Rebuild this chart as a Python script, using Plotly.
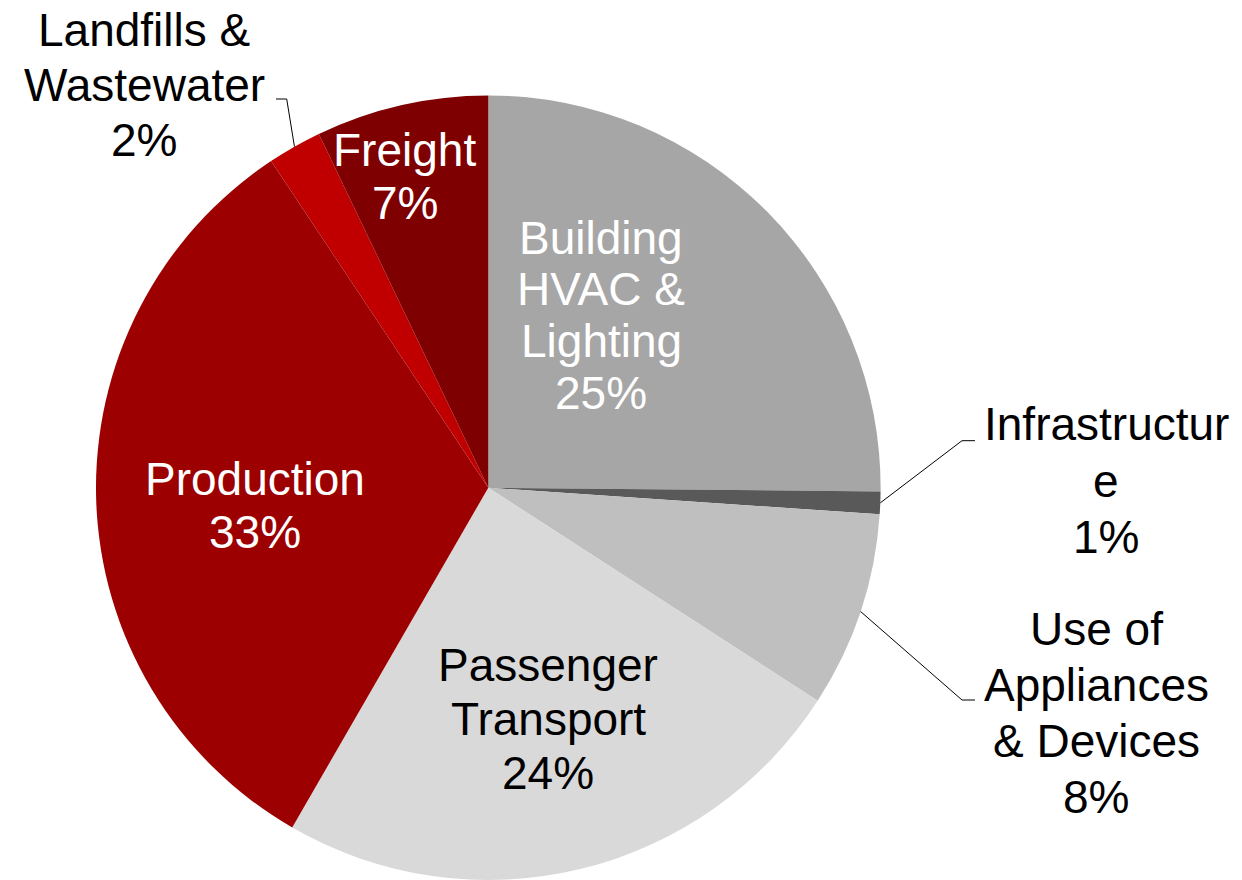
import math

import plotly.graph_objects as go

# ---------------------------------------------------------------------------
# Data
# ---------------------------------------------------------------------------

categories = [
    "Building HVAC & Lighting",
    "Infrastructure",
    "Use of Appliances & Devices",
    "Passenger Transport",
    "Production",
    "Landfills & Wastewater",
    "Freight",
]
shares = [25.15, 0.93, 8.06, 24.19, 32.33, 2.23, 7.11]
pct_labels = ["25%", "1%", "8%", "24%", "33%", "2%", "7%"]
label_lines = [
    ["Building", "HVAC &", "Lighting"],
    ["Infrastructur", "e"],
    ["Use of", "Appliances", "& Devices"],
    ["Passenger", "Transport"],
    ["Production"],
    ["Landfills &", "Wastewater"],
    ["Freight"],
]
colors = ["#a6a6a6", "#595959", "#bfbfbf", "#d9d9d9", "#9c0000", "#c00000", "#7f0000"]
text_colors = ["white", "black", "black", "black", "white", "black", "white"]

# ---------------------------------------------------------------------------
# Layout constants (screen pixels)
# ---------------------------------------------------------------------------

W, H = 1242, 880
PAGE_OFFSET = 8  # default body margin of the html page
CX, CY, R = 488.3, 487.7, 392.3
FONT = "Liberation Sans, Arial, sans-serif"
FSIZE = 46

# per-label: centre x, first line y, line spacing
label_pos = [
    (601, 238, 51.5),
    (1106, 424, 56.5),
    (1096, 629, 56),
    (548, 664.5, 54),
    (255, 479, 53),
    (144, 30, 55),
    (405, 150, 53),
]
# leader lines: (elbow x, elbow y, end x) for outside labels
leaders = {
    1: (962, 440.7, 975),
    2: (962, 700, 975),
    5: (286.7, 99, 276),
}


def px(x):
    return min(max((x - PAGE_OFFSET) / W, 0.0), 1.0)


def py(y):
    return min(max(1 - (y - PAGE_OFFSET) / H, 0.0), 1.0)


fig = go.Figure()

fig.add_trace(go.Pie(
    labels=categories,
    values=shares,
    sort=False,
    direction="clockwise",
    rotation=0,
    marker=dict(colors=colors, line=dict(width=0)),
    textinfo="none",
    hoverinfo="label+percent",
    showlegend=False,
    domain=dict(x=[px(CX - R), px(CX + R)], y=[py(CY + R), py(CY - R)]),
))

# -- Labels ------------------------------------------------------------------
annotations = []
for i, lines in enumerate(label_lines):
    x0, y0, step = label_pos[i]
    for k, line in enumerate(lines + [pct_labels[i]]):
        annotations.append(dict(
            x=px(x0), y=py(y0 + k * step),
            xref="paper", yref="paper",
            text=line, showarrow=False,
            xanchor="center", yanchor="middle",
            font=dict(family=FONT, size=FSIZE, color=text_colors[i]),
        ))

# -- Leader lines from slice mid-angle to the label ----------------------------
total = sum(shares)
shapes = []
cum = 0.0
for i, v in enumerate(shares):
    mid = (cum + v / 2) / total * 2 * math.pi
    cum += v
    if i not in leaders:
        continue
    sx = CX + R * math.sin(mid)
    sy = CY - R * math.cos(mid)
    ex, ey, tx = leaders[i]
    path = f"M {px(sx)},{py(sy)} L {px(ex)},{py(ey)} L {px(tx)},{py(ey)}"
    shapes.append(dict(
        type="path", path=path, xref="paper", yref="paper",
        line=dict(color="black", width=1),
    ))

fig.update_layout(
    width=W, height=H,
    margin=dict(l=0, r=0, t=0, b=0),
    paper_bgcolor="white",
    plot_bgcolor="white",
    annotations=annotations,
    shapes=shapes,
)

fig.write_html("out.html")
